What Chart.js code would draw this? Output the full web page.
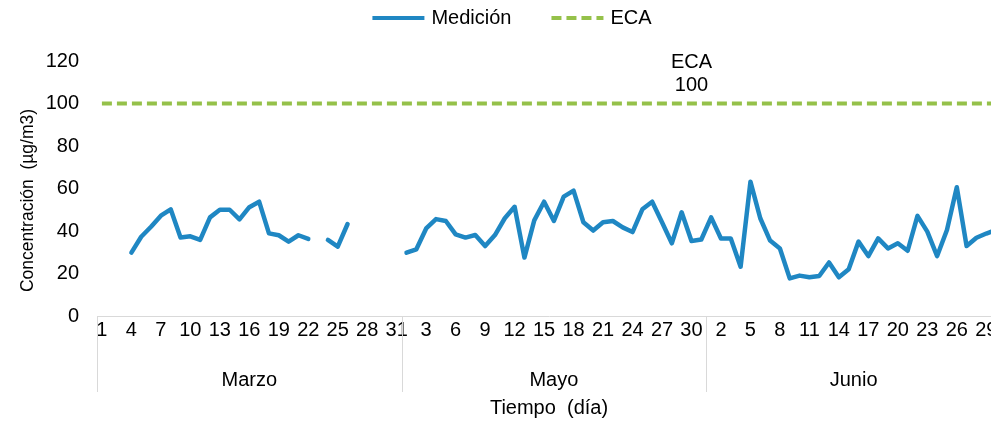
<!DOCTYPE html>
<html>
<head>
<meta charset="utf-8">
<script src="https://cdn.jsdelivr.net/npm/chart.js@4"></script>
<style>
  html, body { margin: 0; padding: 0; background: #ffffff; overflow: hidden; }
  #wrap { position: relative; width: 1040px; height: 421px; }
</style>
</head>
<body>
<div id="wrap"><canvas id="c"></canvas></div>
<script>
// ---- Data ----
const groupNames = ['Marzo', 'Mayo', 'Junio'];
const groupDayCounts = [31, 31, 30];

const medicionMarzo = [null, null, null, 29.8, 37.3, 42, 47.2, 50.2, 36.9, 37.5, 35.8, 46.4, 50, 50, 45.5, 51.2, 53.8, 38.9, 38, 35, 38, 36.3, null, 35.8, 32.6, 43.3, null, null, null, null, null];
const medicionMayo = [29.8, 31.4, 41.2, 45.6, 44.7, 38.4, 36.9, 38.1, 32.9, 38.1, 46, 51.4, 27.5, 45, 53.8, 44.7, 56.2, 59, 44.1, 40.2, 44.1, 44.7, 41.7, 39.5, 50.2, 53.8, 44.1, 34.2, 48.8, 35.3, 36];
const medicionJunio = [46.4, 36.5, 36.5, 23.2, 63.2, 46, 35.5, 31.8, 17.7, 19, 18.2, 18.8, 25.2, 18.2, 22, 35, 28.2, 36.5, 31.8, 34.2, 30.7, 47.1, 39.7, 28.2, 40.5, 60.6, 32.9, 36.8, 38.8, 40.5];

const ecaLimit = 100;
const ecaLabelGroup = 'Mayo';
const ecaLabelDay = 30;

const yTicksMin = 0, yTicksMax = 120, yTicksStep = 20;
const tickEvery = 3;
const yTitle = 'Concentración  (µg/m3)';
const xTitle = 'Tiempo  (día)';

// ---- Build categories ----
const dayLabels = [];
const groupStart = [];
groupDayCounts.forEach((n) => {
  groupStart.push(dayLabels.length);
  for (let d = 1; d <= n; d++) dayLabels.push(String(d));
});
const medicion = [].concat(medicionMarzo, medicionMayo, medicionJunio);
const eca = dayLabels.map(() => ecaLimit);
const ecaLabelIndex = groupStart[groupNames.indexOf(ecaLabelGroup)] + ecaLabelDay - 1;

const FONT = '"Liberation Sans", Arial, sans-serif';
const FS = 20;
const BLUE = '#1f87c3';
const GREEN = '#95c14a';
const GRIDC = '#d9d9d9';

// custom legend (line samples) drawn at top center
const topLegend = {
  id: 'topLegend',
  afterDraw(chart) {
    const ctx = chart.ctx;
    ctx.save();
    ctx.font = FS + 'px ' + FONT;
    ctx.textBaseline = 'middle';
    ctx.textAlign = 'left';
    const sample = 52, gapText = 7, gapItem = 40, cy = 18, shift = -8;
    const items = chart.data.datasets.map(ds => ({
      text: ds.label, color: ds.borderColor, dash: ds.borderDash || [], w: 4
    }));
    let total = 0;
    items.forEach((it, i) => {
      it.tw = ctx.measureText(it.text).width;
      total += sample + gapText + it.tw + (i < items.length - 1 ? gapItem : 0);
    });
    let x = chart.width / 2 - total / 2 + shift;
    items.forEach(it => {
      ctx.strokeStyle = it.color;
      ctx.lineWidth = it.w;
      ctx.setLineDash(it.dash);
      ctx.lineCap = 'butt';
      ctx.beginPath();
      ctx.moveTo(x, cy);
      ctx.lineTo(x + sample, cy);
      ctx.stroke();
      ctx.setLineDash([]);
      ctx.fillStyle = '#000';
      ctx.fillText(it.text, x + sample + gapText, cy);
      x += sample + gapText + it.tw + gapItem;
    });
    ctx.restore();
  }
};

const groupAxis = {
  id: 'groupAxis',
  afterDraw(chart) {
    const x = chart.scales.x;
    const area = chart.chartArea;
    const ctx = chart.ctx;
    const half = (x.getPixelForValue(1) - x.getPixelForValue(0)) / 2;
    const bottom = area.bottom + 76;
    ctx.save();
    ctx.strokeStyle = GRIDC;
    ctx.lineWidth = 1;
    const bounds = groupStart.map(s => x.getPixelForValue(s) - half);
    bounds.push(x.getPixelForValue(dayLabels.length - 1) + half);
    bounds.forEach(b => {
      const px = Math.round(b) + 0.5;
      ctx.beginPath();
      ctx.moveTo(px, area.bottom);
      ctx.lineTo(px, bottom);
      ctx.stroke();
    });
    ctx.fillStyle = '#000';
    ctx.font = FS + 'px ' + FONT;
    ctx.textAlign = 'center';
    ctx.textBaseline = 'middle';
    groupNames.forEach((name, i) => {
      ctx.fillText(name, (bounds[i] + bounds[i + 1]) / 2, area.bottom + 64);
    });
    // ECA data label
    const meta = chart.getDatasetMeta(1);
    const pt = meta.data[ecaLabelIndex];
    if (pt) {
      ctx.fillText('ECA', pt.x, pt.y - 41);
      ctx.fillText(String(ecaLimit), pt.x, pt.y - 18);
    }
    // Y axis title (rotated), slightly below the plot centre as in the reference
    ctx.save();
    ctx.translate(28, (area.top + area.bottom) / 2 + 12);
    ctx.rotate(-Math.PI / 2);
    ctx.font = '17.5px ' + FONT;
    ctx.fillText(yTitle, 0, 0);
    ctx.restore();
    ctx.restore();
  }
};

new Chart(document.getElementById('c'), {
  type: 'line',
  data: {
    labels: dayLabels,
    datasets: [
      {
        label: 'Medición',
        data: medicion,
        borderColor: BLUE,
        backgroundColor: BLUE,
        borderWidth: 4.5,
        pointRadius: 0,
        tension: 0,
        spanGaps: false,
        borderCapStyle: 'round',
        borderJoinStyle: 'round'
      },
      {
        label: 'ECA',
        data: eca,
        borderColor: GREEN,
        backgroundColor: GREEN,
        borderWidth: 4,
        borderDash: [10, 5],
        pointRadius: 0,
        tension: 0
      }
    ]
  },
  options: {
    responsive: true,
    maintainAspectRatio: false,
    animation: false,
    layout: { padding: { left: 0, right: 39, top: 61, bottom: 0 } },
    plugins: {
      legend: { display: false },
      tooltip: { enabled: false }
    },
    scales: {
      x: {
        type: 'category',
        offset: true,
        afterFit(scale) { scale.height = 105; },
        grid: { display: false, drawTicks: false },
        border: { display: true, color: GRIDC, width: 1 },
        ticks: {
          autoSkip: false,
          maxRotation: 0,
          minRotation: 0,
          padding: 2,
          color: '#000',
          font: { family: FONT, size: FS },
          callback: function (v, i) { return i % tickEvery === 0 ? dayLabels[i] : ''; }
        },
        title: {
          display: true,
          text: xTitle,
          color: '#000',
          font: { family: FONT, size: FS },
          padding: { top: 0, bottom: 1 }
        }
      },
      y: {
        min: yTicksMin,
        max: yTicksMax,
        afterFit(scale) { scale.width = 97; },
        grid: { display: false, drawTicks: false },
        border: { display: false },
        ticks: {
          stepSize: yTicksStep,
          padding: 18,
          color: '#000',
          font: { family: FONT, size: FS }
        },
        title: { display: false }
      }
    }
  },
  plugins: [topLegend, groupAxis]
});
</script>
</body>
</html>
